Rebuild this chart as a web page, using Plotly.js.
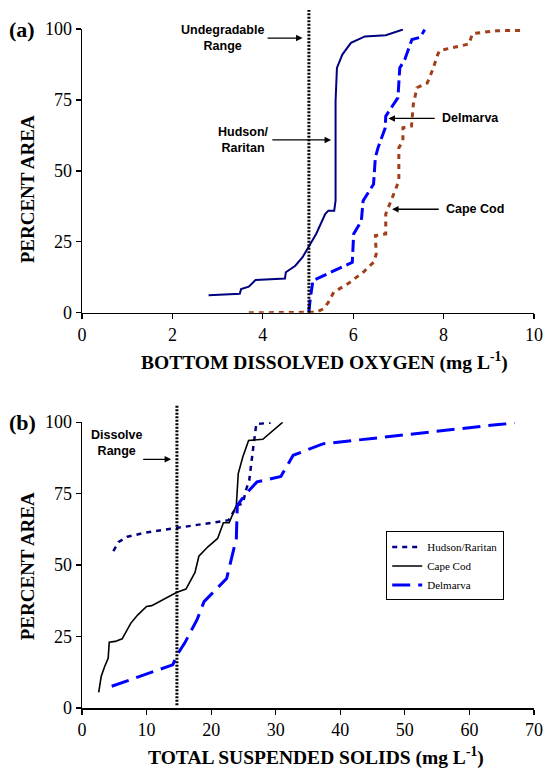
<!DOCTYPE html>
<html>
<head>
<meta charset="utf-8">
<script src="https://cdn.plot.ly/plotly-3.0.1.min.js"></script>
<style>html,body{margin:0;padding:0;background:#fff}#chart{width:545px;height:768px}</style>
</head>
<body>
<div id="chart"></div>
<script>
// ---- Panel (a): bottom dissolved oxygen (mg/L) vs percent area ----
const doHudsonX = [2.80,3.49,3.52,3.69,3.84,4.49,4.51,4.72,4.88,5.03,5.18,5.38,5.45,5.58,5.61,5.61,5.64,5.76,5.95,6.26,6.72,7.10];
const doHudsonY = [6.2,6.7,8.4,9.2,11.6,12.1,14.3,16.6,19.6,23.7,27.8,34.8,36.0,36.0,39.5,74.6,86.3,91.0,95.1,97.4,97.8,99.8];
const doDelmarvaX = [5.02,5.05,5.11,5.57,5.98,6.01,6.18,6.22,6.45,6.49,6.55,6.71,6.72,6.99,7.03,7.14,7.30,7.49,7.58];
const doDelmarvaY = [0.5,5,11.4,14.9,17.8,27.8,32.4,39.5,45.3,54.7,58.2,65.2,69.3,75.8,86.3,89.2,96.3,97.1,99.8];
const doCapeCodX = [3.69,5.03,5.18,5.34,5.45,5.57,5.88,6.22,6.45,6.51,6.49,6.72,6.72,6.91,7.01,7.01,7.10,7.10,7.29,7.33,7.41,7.64,7.76,7.87,7.91,8.56,8.64,9.18,9.72];
const doCapeCodY = [0,0,0.2,1.4,3.7,7.3,10.2,14.3,17.8,20.7,27.2,27.8,34.8,42.4,46.5,58.2,60.5,65.2,65.8,73.4,79.3,81.0,85.7,91.0,92.4,94.7,98.4,99.4,99.5];
const doThreshold = 5.02;

// ---- Panel (b): total suspended solids (mg/L) vs percent area ----
const tssHudsonX = [4.86,5.68,7.03,9.73,12.97,14.7,17.3,20.5,22.7,24.05,24.9,25.4,25.9,26.5,26.9,27.0,29.2];
const tssHudsonY = [54.9,58.1,59.9,61.3,62.4,63.0,64.0,64.9,65.7,70.9,71.5,76.2,79.7,90.7,98.3,99.4,99.8];
const tssCapeCodX = [2.59,2.97,3.51,4.05,4.22,5.14,6.22,7.57,8.65,10.0,10.8,14.7,16.1,17.5,18.1,19.5,21.0,21.9,22.8,23.9,24.2,24.9,25.8,28.0,31.1];
const tssCapeCodY = [5.5,11,14.5,17.4,23,23.3,24.2,29.7,32.6,35.5,35.8,40.5,41.6,47.4,53.1,56.4,59.3,64.8,64.8,70.9,82,87.8,93.6,94,100];
const tssDelmarvaX = [4.6,14.05,14.9,15.9,17.8,18.9,22.4,23.9,24.05,25.4,27.1,30.8,32.7,37.3,67.0];
const tssDelmarvaY = [7.6,15.1,19.2,22.7,30.8,37.2,45.3,59.3,70.9,75,79.1,81,88.4,92.4,99.8];
const tssThreshold = 14.7;

const seriesNames = ['Hudson/Raritan','Cape Cod','Delmarva'];
const yTicks = [0,25,50,75,100];
const xTicksA = [0,2,4,6,8,10];
const xTicksB = [0,10,20,30,40,50,60,70];
const xTitleA = 'BOTTOM DISSOLVED OXYGEN (mg L<sup>-1</sup>)';
const xTitleB = 'TOTAL SUSPENDED SOLIDS (mg L<sup>-1</sup>)';
const yTitle = 'PERCENT AREA';

const NAVY='#000080', BLUE='#0000FF', RUST='#A0401A', BLACK='#000000';

const traces = [
  {x:doHudsonX, y:doHudsonY, xaxis:'x', yaxis:'y', mode:'lines', showlegend:false, name:seriesNames[0],
   line:{color:NAVY, width:2}},
  {x:doDelmarvaX, y:doDelmarvaY, xaxis:'x', yaxis:'y', mode:'lines', showlegend:false, name:seriesNames[2],
   line:{color:BLUE, width:3, dash:'12px,5px'}},
  {x:doCapeCodX, y:doCapeCodY, xaxis:'x', yaxis:'y', mode:'lines', showlegend:false, name:seriesNames[1],
   line:{color:RUST, width:3, dash:'5px,5px'}},
  {x:tssHudsonX, y:tssHudsonY, xaxis:'x2', yaxis:'y2', mode:'lines', name:seriesNames[0],
   line:{color:NAVY, width:2.5, dash:'5px,5px'}},
  {x:tssCapeCodX, y:tssCapeCodY, xaxis:'x2', yaxis:'y2', mode:'lines', name:seriesNames[1],
   line:{color:BLACK, width:1.6}},
  {x:tssDelmarvaX, y:tssDelmarvaY, xaxis:'x2', yaxis:'y2', mode:'lines', name:seriesNames[2],
   line:{color:BLUE, width:3, dash:'18px,8px'}}
];

const SERIF = "'Liberation Serif', 'Times New Roman', Times, serif";
const SANS = "'Liberation Sans', Arial, Helvetica, sans-serif";
const tickFont = {family:SERIF, size:18, color:'#000'};
const titleFont = {family:SERIF, size:19.5, color:'#000', weight:'bold'};
const yTitleFont = {family:SERIF, size:19, color:'#000', weight:'bold'};
const annFont = {family:SANS, size:12.5, color:'#000', weight:'bold'};

function xAxis(range, vals, anchor){
  return {range:range, tickvals:vals, ticktext:vals.map(String), anchor:anchor, domain:[0,1],
    showgrid:false, zeroline:false, showline:true, linecolor:'#000', linewidth:1.5,
    ticks:'outside', ticklen:5, tickwidth:1.2, tickcolor:'#000', tickfont:tickFont, fixedrange:true};
}
function yAxis(domain, anchor){
  return {range:[0,100], tickvals:yTicks, ticktext:yTicks.map(String), anchor:anchor, domain:domain,
    showgrid:false, zeroline:false, showline:true, linecolor:'#000', linewidth:1.5,
    ticks:'outside', ticklen:5, tickwidth:1.2, tickcolor:'#000', tickfont:tickFont, fixedrange:true};
}

// Labelled arrow: text centred at (tx, ty), arrow head at (hx, hy)
const pointer = (t, tx, ty, hx, hy, xr, yr, gap) => ({text:t, x:hx, y:hy, ax:tx, ay:ty,
  xref:xr, yref:yr, axref:xr, ayref:yr, showarrow:true, arrowhead:2, arrowsize:1, arrowwidth:1.3,
  arrowcolor:'#000', startstandoff:gap, font:annFont, align:'center'});
const paperText = (t, x, y, angle, font) => ({text:t, xref:'paper', yref:'paper', x:x, y:y,
  xanchor:'center', yanchor:'middle', showarrow:false, textangle:angle, font:font});

const layout = {
  width:545, height:768,
  margin:{l:82, r:11, t:29, b:60},
  paper_bgcolor:'#fff', plot_bgcolor:'#fff',
  showlegend:true,
  legend:{x:0.673, y:0.26, xanchor:'left', yanchor:'top', bordercolor:'#000', borderwidth:1, bgcolor:'#fff',
    font:{family:SERIF, size:11, color:'#000'}, tracegroupgap:0, itemwidth:30},
  xaxis: xAxis([0,10], xTicksA, 'y'),
  yaxis: yAxis([0.582,1], 'x'),
  xaxis2: xAxis([0,70], xTicksB, 'y2'),
  yaxis2: yAxis([0,0.421], 'x2'),
  shapes:[
    {type:'line', xref:'x', yref:'paper', x0:doThreshold, x1:doThreshold, y0:0.582, y1:1.028,
     line:{color:'#000', width:3, dash:'2px,1.5px'}},
    {type:'line', xref:'x2', yref:'paper', x0:tssThreshold, x1:tssThreshold, y0:0.004, y1:0.447,
     line:{color:'#000', width:3, dash:'2px,1.5px'}}
  ],
  annotations:[
    pointer('Undegradable<br>Range', 3.11, 96.8, 4.88, 96.8, 'x', 'y', 2),
    pointer('Hudson/<br>Raritan', 3.57, 60.9, 5.51, 60.9, 'x', 'y', 2),
    pointer('Delmarva', 8.60, 68.5, 6.78, 68.5, 'x', 'y', 6),
    pointer('Cape Cod', 8.70, 36.5, 6.86, 36.5, 'x', 'y', 6),
    pointer('Dissolve<br>Range<br>&nbsp;<br>&nbsp;', 5.3, 87.0, 13.8, 87.0, 'x2', 'y2', 0),
    paperText(xTitleA, 0.5365, 0.510, 0, titleFont),
    paperText(xTitleB, 0.518, -0.0714, 0, titleFont),
    paperText(yTitle, -0.12, 0.7636, -90, yTitleFont),
    paperText(yTitle, -0.12, 0.2084, -90, yTitleFont),
    {text:'(a)', xref:'paper', yref:'paper', x:-0.165, y:1.0, xanchor:'left', yanchor:'middle', showarrow:false,
     font:{family:SERIF, size:22, color:'#000', weight:'bold'}},
    {text:'(b)', xref:'paper', yref:'paper', x:-0.165, y:0.421, xanchor:'left', yanchor:'middle', showarrow:false,
     font:{family:SERIF, size:22, color:'#000', weight:'bold'}}
  ]
};

Plotly.newPlot('chart', traces, layout, {displayModeBar:false, staticPlot:true});
</script>
</body>
</html>
